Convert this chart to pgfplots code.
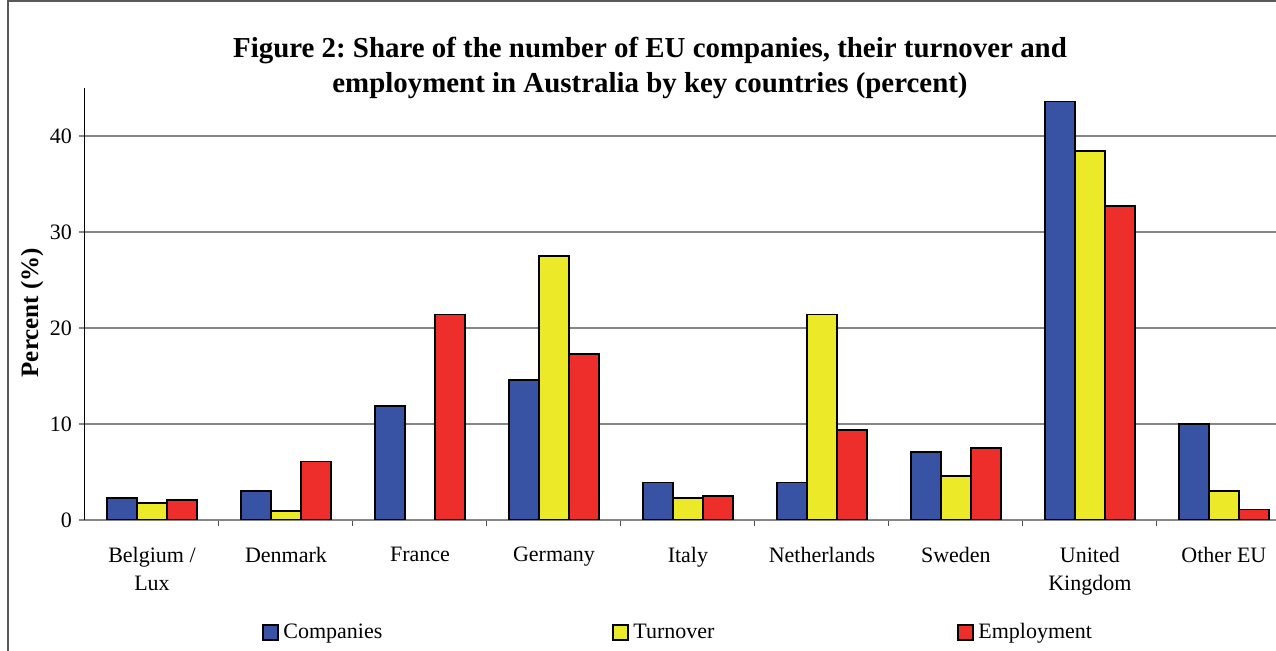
\documentclass[border=0pt]{standalone}
\usepackage{pgfplots}
\pgfplotsset{compat=1.18}
\usepackage{fontspec}
\setmainfont{Liberation Serif}
\frenchspacing
\definecolor{cblue}{RGB}{57,83,164}
\definecolor{cyellow}{RGB}{236,233,41}
\definecolor{cred}{RGB}{238,46,43}
\definecolor{gridgray}{RGB}{134,134,134}
\begin{document}
\begin{tikzpicture}
\useasboundingbox (0,0) rectangle (638pt,325.5pt);
\draw[black!65, line width=0.8pt] (4pt,0) -- (4pt,325pt) -- (638pt,325pt);
\node[font=\fontsize{14.45}{16}\selectfont\bfseries, anchor=base] at (325pt,296.5pt) {Figure 2: Share of the number of EU companies, their turnover and};
\node[font=\fontsize{14.45}{16}\selectfont\bfseries, anchor=base] at (325pt,279pt) {employment in Australia by key countries (percent)};
\begin{axis}[
  at={(42.5pt,65.5pt)}, anchor=south west,
  scale only axis, width=595.5pt, height=216pt,
  xmin=-0.5, xmax=8.389, ymin=0, ymax=45,
  ybar=0pt, bar width=15pt,
  axis x line*=bottom, axis y line*=left,
  x axis line style={gridgray, line width=0.8pt},
  y axis line style={black, line width=0.5pt},
  ymajorgrids, grid style={gridgray, line width=0.8pt},
  ytick={0,10,20,30,40},
  tick align=outside, major tick length=3pt, minor tick length=3pt,
  ytick style={gridgray, line width=0.6pt},
  xtick={0,...,8},
  major x tick style={draw=none},
  minor xtick={0.5,1.5,...,7.5},
  minor x tick style={draw=black!70, line width=0.5pt},
  xticklabels={Belgium /\\Lux, Denmark, France, Germany, Italy, Netherlands, Sweden, United\\Kingdom, Other EU},
  xticklabel style={align=center, anchor=north, yshift=-7pt, font=\fontsize{11}{14}\selectfont},
  yticklabel style={font=\fontsize{11}{13}\selectfont},
  /pgf/number format/assume math mode=true,
  ylabel={Percent (\%)},
  every axis y label/.style={at={(axis description cs:-0.0445,0.48)}, rotate=90, anchor=center,
    font=\fontsize{12.5}{14}\selectfont\bfseries},
  legend image code/.code={\draw[#1, line width=1pt] (0pt,-3.75pt) rectangle (7.5pt,3.75pt);},
  legend style={draw=none, fill=none, at={(0.1486,-0.26)}, anchor=west, legend columns=3, inner sep=0pt,
    font=\fontsize{11}{13}\selectfont},
  legend cell align=left,
]
\addplot[fill=cblue, draw=black, line width=0.9pt] coordinates {(0,2.3) (1,3.0) (2,11.9) (3,14.6) (4,3.9) (5,3.9) (6,7.1) (7,43.6) (8,10.0)};
\addlegendentry{\makebox[162.5pt][l]{Companies}}
\addplot[fill=cyellow, draw=black, line width=0.9pt] coordinates {(0,1.8) (1,0.9) (3,27.5) (4,2.3) (5,21.4) (6,4.6) (7,38.4) (8,3.0)};
\addlegendentry{\makebox[160pt][l]{Turnover}}
\addplot[fill=cred, draw=black, line width=0.9pt] coordinates {(0,2.1) (1,6.1) (2,21.4) (3,17.3) (4,2.5) (5,9.4) (6,7.5) (7,32.7) (8,1.1)};
\addlegendentry{Employment}
\end{axis}
\end{tikzpicture}
\end{document}
